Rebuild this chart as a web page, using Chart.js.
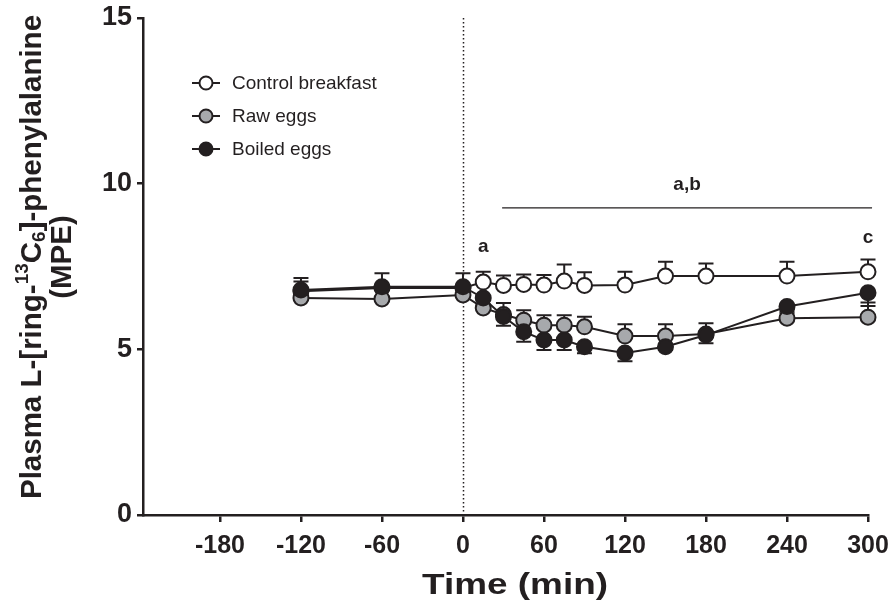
<!DOCTYPE html>
<html>
<head>
<meta charset="utf-8">
<script src="https://cdn.jsdelivr.net/npm/chart.js@4"></script>
<style>
  html, body { margin: 0; padding: 0; background: #fff; }
  #wrap { width: 893px; height: 615px; }
</style>
</head>
<body>
<div id="wrap"><canvas id="phe"></canvas></div>
<script>
var times = [-120, -60, 0, 15, 30, 45, 60, 75, 90, 120, 150, 180, 240, 300];
var xTicks = [-180, -120, -60, 0, 60, 120, 180, 240, 300];
var yTicks = [0, 5, 10, 15];

var control = [6.75, 6.85, 6.85, 7.03, 6.93, 6.96, 6.94, 7.06, 6.93, 6.94, 7.21, 7.21, 7.21, 7.34];
var controlSem = [0.4, 0.45, 0.45, 0.31, 0.3, 0.3, 0.3, 0.5, 0.4, 0.4, 0.43, 0.38, 0.43, 0.37];
var raw = [6.55, 6.52, 6.64, 6.25, 6.05, 5.88, 5.73, 5.73, 5.68, 5.40, 5.40, 5.46, 5.94, 5.97];
var rawSem = [0.5, 0.3, 0.3, 0.3, 0.35, 0.3, 0.3, 0.3, 0.3, 0.36, 0.36, 0.33, 0.2, 0.44];
var boiled = [6.79, 6.89, 6.89, 6.55, 5.99, 5.53, 5.28, 5.28, 5.08, 4.89, 5.08, 5.43, 6.29, 6.71];
var boiledSem = [0.3, 0.3, 0.3, 0.2, 0.28, 0.3, 0.3, 0.3, 0.2, 0.25, 0.1, 0.25, 0.2, 0.4];

var seriesNames = ["Control breakfast", "Raw eggs", "Boiled eggs"];
var fills = ["#ffffff", "#a7a9ac", "#231f20"];

// significance marks
var sigLabels = ["a", "a,b", "c"];
var sigX = [15, 166, 300];
var sigY = [8.1, 9.96, 8.36];
var sigLine = [29, 303, 9.27];  // from, to, level

var ink = "#231f20";

function pts(ys) {
  return times.map(function (t, i) { return { x: t, y: ys[i] }; });
}

function ds(i, ys, sem, dir, order) {
  return {
    label: seriesNames[i],
    data: pts(ys),
    sem: sem,
    errDir: dir,
    order: order,
    clip: false,
    borderColor: ink,
    borderWidth: 2,
    backgroundColor: fills[i],
    pointBackgroundColor: fills[i],
    pointBorderColor: ink,
    pointBorderWidth: 2,
    pointRadius: 7.5,
    tension: 0
  };
}

var errorBars = {
  id: "errorBars",
  beforeDatasetsDraw: function (chart) {
    var c = chart.ctx, x = chart.scales.x, y = chart.scales.y;
    c.save();
    c.strokeStyle = ink;
    c.lineWidth = 2;
    chart.data.datasets.forEach(function (d) {
      d.data.forEach(function (p, i) {
        var px = x.getPixelForValue(p.x);
        var y0 = y.getPixelForValue(p.y);
        var y1 = y.getPixelForValue(p.y + d.errDir * d.sem[i]);
        c.beginPath();
        c.moveTo(px, y0); c.lineTo(px, y1);
        c.moveTo(px - 7.5, y1); c.lineTo(px + 7.5, y1);
        c.stroke();
      });
    });
    c.restore();
  }
};

var extras = {
  id: "extras",
  beforeDraw: function (chart) {
    var c = chart.ctx, x = chart.scales.x, y = chart.scales.y;
    // dotted line at time 0
    c.save();
    c.strokeStyle = ink;
    c.lineWidth = 1.5;
    c.setLineDash([1.5, 2.5]);
    var x0 = Math.round(x.getPixelForValue(0)) + 0.5;
    c.beginPath();
    c.moveTo(x0, y.getPixelForValue(15));
    c.lineTo(x0, y.getPixelForValue(0));
    c.stroke();
    c.restore();
  },
  afterDraw: function (chart) {
    var c = chart.ctx, x = chart.scales.x, y = chart.scales.y;
    c.save();
    c.fillStyle = ink;
    c.strokeStyle = ink;

    // significance bar + letters
    c.lineWidth = 1.3;
    var ly = y.getPixelForValue(sigLine[2]);
    c.beginPath();
    c.moveTo(x.getPixelForValue(sigLine[0]), ly);
    c.lineTo(x.getPixelForValue(sigLine[1]), ly);
    c.stroke();
    c.font = "bold 19px 'Liberation Sans', Arial, sans-serif";
    c.textAlign = "center";
    c.textBaseline = "middle";
    sigLabels.forEach(function (s, i) {
      c.fillText(s, x.getPixelForValue(sigX[i]), y.getPixelForValue(sigY[i]));
    });

    // legend
    var rows = [83, 116, 149];
    seriesNames.forEach(function (name, i) {
      c.lineWidth = 2;
      c.beginPath();
      c.moveTo(192, rows[i]); c.lineTo(220, rows[i]);
      c.stroke();
      c.beginPath();
      c.arc(206, rows[i], 6.5, 0, Math.PI * 2);
      c.fillStyle = fills[i];
      c.fill();
      c.stroke();
      c.fillStyle = ink;
      c.font = "19px 'Liberation Sans', Arial, sans-serif";
      c.textAlign = "left";
      c.fillText(name, 232, rows[i] + 1);
    });

    // x title, slightly stretched like the original
    c.save();
    c.font = "bold 30px 'Liberation Sans', Arial, sans-serif";
    c.textAlign = "center";
    c.textBaseline = "middle";
    var tw = c.measureText("Time (min)").width;
    c.translate(515, 586);
    c.scale(186 / tw, 1);
    c.fillText("Time (min)", 0, 0);
    c.restore();

    // y title with super/subscript
    var big = "bold 29.5px 'Liberation Sans', Arial, sans-serif";
    var small = "bold 19px 'Liberation Sans', Arial, sans-serif";
    var parts = [
      ["Plasma L-[ring-", big, 0],
      ["13", small, -10],
      ["C", big, 0],
      ["6", small, 7],
      ["]-phenylalanine", big, 0]
    ];
    var total = 0;
    parts.forEach(function (p) { c.font = p[1]; p.push(c.measureText(p[0]).width); total += p[3]; });
    c.save();
    c.translate(33, 257);
    c.rotate(-Math.PI / 2);
    c.textAlign = "left";
    c.textBaseline = "middle";
    var cx = -total / 2;
    parts.forEach(function (p) {
      c.font = p[1];
      c.fillText(p[0], cx, p[2]);
      cx += p[3];
    });
    c.font = big;
    c.textAlign = "center";
    c.fillText("(MPE)", 0, 30);
    c.restore();

    c.restore();
  }
};

new Chart(document.getElementById("phe"), {
  type: "line",
  data: {
    datasets: [
      ds(0, control, controlSem, 1, 2),
      ds(1, raw, rawSem, 1, 1),
      ds(2, boiled, boiledSem, -1, 0)
    ]
  },
  options: {
    responsive: true,
    maintainAspectRatio: false,
    animation: false,
    layout: { padding: { top: 18, right: 25, left: 0, bottom: 0 } },
    plugins: {
      legend: { display: false },
      tooltip: { enabled: false }
    },
    scales: {
      x: {
        type: "linear",
        min: -237,
        max: 300,
        afterBuildTicks: function (s) { s.ticks = xTicks.map(function (v) { return { value: v }; }); },
        afterFit: function (s) { s.height = 100; s.paddingLeft = 0; s.paddingRight = 0; },
        border: { display: true, color: ink, width: 2.5 },
        grid: { drawOnChartArea: false, drawTicks: true, tickLength: 7, color: ink, lineWidth: 2.5 },
        ticks: {
          color: ink,
          padding: 9,
          maxRotation: 0,
          autoSkip: false,
          font: { family: "'Liberation Sans', Arial, sans-serif", size: 25, weight: "bold" }
        }
      },
      y: {
        min: 0,
        max: 15,
        afterBuildTicks: function (s) { s.ticks = yTicks.map(function (v) { return { value: v }; }); },
        afterFit: function (s) { s.width = 143; s.paddingTop = 0; s.paddingBottom = 0; },
        border: { display: true, color: ink, width: 2.5 },
        grid: { drawOnChartArea: false, drawTicks: true, tickLength: 6, color: ink, lineWidth: 2.5 },
        ticks: {
          color: ink,
          padding: 5,
          font: { family: "'Liberation Sans', Arial, sans-serif", size: 27, weight: "bold" }
        }
      }
    }
  },
  plugins: [errorBars, extras]
});
</script>
</body>
</html>
